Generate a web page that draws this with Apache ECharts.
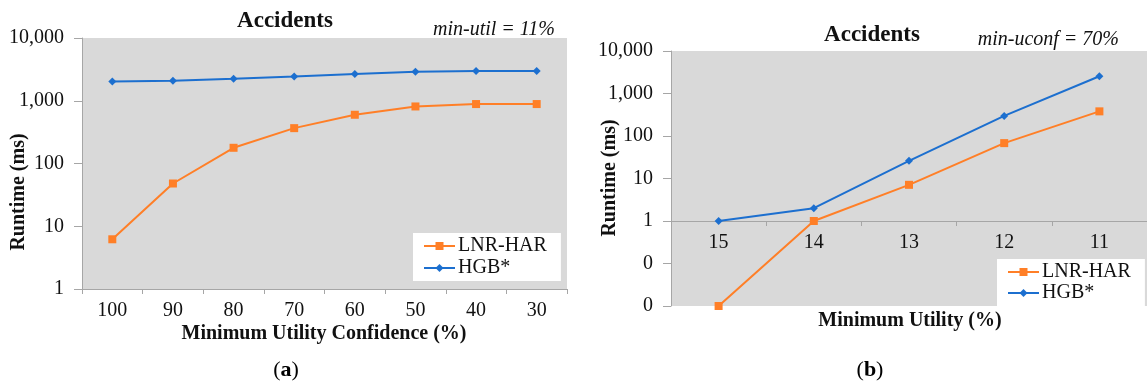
<!DOCTYPE html>
<html>
<head>
<meta charset="utf-8">
<script src="https://cdn.jsdelivr.net/npm/echarts@6/dist/echarts.min.js"></script>
<style>
  html, body { margin: 0; padding: 0; background: #fff; }
  #main { width: 1147px; height: 383px; }
</style>
</head>
<body>
<div id="main"></div>
<script>
// (a) runtime vs minimum utility confidence, min-util = 11%
var confCats = ["100", "90", "80", "70", "60", "50", "40", "30"];
var lnrConf = [6.2, 48, 178, 366, 598, 811, 886, 886];
var hgbConf = [2030, 2080, 2240, 2440, 2670, 2900, 2980, 2980];

// (b) runtime vs minimum utility, min-uconf = 70%
var utilCats = ["15", "14", "13", "12", "11"];
var lnrUtil = [0.01, 1, 7.1, 68, 380];
var hgbUtil = [1, 2, 26, 297, 2550];

var FONT = "Liberation Serif";
var ORANGE = "#ff7f27";
var BLUE = "#1c6fcf";
var AXIS_GRAY = "#a6a6a6";

var chartDom = document.getElementById("main");
var myChart = echarts.init(chartDom);

function logLabel(v) {
    if (v < 1) return "0";
    return Math.round(v).toLocaleString("en-US");
}

function yAxisFor(idx, min, max, splits) {
    return {
        type: "log",
        gridIndex: idx,
        logBase: 10,
        min: min,
        max: max,
        splitNumber: splits,
        axisLine: { show: true, lineStyle: { color: AXIS_GRAY, width: 1 } },
        axisTick: { show: true, length: 8, lineStyle: { color: AXIS_GRAY } },
        axisLabel: {
            formatter: logLabel,
            margin: 18,
            color: "#111",
            fontFamily: FONT,
            fontSize: 20,
        },
        splitLine: { show: false },
        minorTick: { show: false },
    };
}

function xAxisFor(idx, cats, offset) {
    return {
        type: "category",
        gridIndex: idx,
        data: cats,
        boundaryGap: true,
        offset: offset,
        axisLine: { show: true, onZero: false, lineStyle: { color: AXIS_GRAY, width: 1 } },
        axisTick: { show: true, length: 5, inside: false, lineStyle: { color: AXIS_GRAY } },
        axisLabel: {
            margin: 12,
            color: "#111",
            fontFamily: FONT,
            fontSize: 20,
        },
        splitLine: { show: false },
    };
}

function lineSeries(name, data, idx, color, symbol, size) {
    return {
        name: name,
        type: "line",
        xAxisIndex: idx,
        yAxisIndex: idx,
        data: data,
        symbol: symbol,
        symbolSize: size,
        lineStyle: { color: color, width: 2 },
        itemStyle: { color: color },
        emphasis: { disabled: true },
    };
}

function legendAt(left, top, gap) {
    return {
        orient: "vertical",
        left: left,
        top: top,
        width: 160,
        data: ["LNR-HAR", "HGB*"],
        backgroundColor: "#fff",
        padding: [3, 14, 3, 10],
        itemGap: gap,
        itemWidth: 31,
        itemHeight: 10,
        textStyle: { fontFamily: FONT, fontSize: 20, color: "#111", padding: [0, 0, 0, -2] },
    };
}

function text(x, y, str, font, extra) {
    var st = { x: x, y: y, text: str, font: font, fill: "#111", textAlign: "center", textVerticalAlign: "middle" };
    return Object.assign({ type: "text", style: st, silent: true }, extra || {});
}

// "(a)" / "(b)" with a bold letter
function panelTag(x, letter) {
    return {
        type: "text",
        silent: true,
        style: {
            x: x,
            y: 370,
            text: "{n|(}{b|" + letter + "}{n|)}",
            textAlign: "center",
            textVerticalAlign: "middle",
            rich: {
                n: { fontFamily: FONT, fontSize: 22, color: "#111" },
                b: { fontFamily: FONT, fontSize: 22, fontWeight: "bold", color: "#111" },
            },
        },
    };
}

var option = {
    backgroundColor: "#fff",
    animation: false,
    grid: [
        { left: 82, top: 38, width: 485, height: 251, show: true, backgroundColor: "#d9d9d9", borderWidth: 0 },
        { left: 671, top: 51, width: 480, height: 255, show: true, backgroundColor: "#d9d9d9", borderWidth: 0 },
    ],
    xAxis: [xAxisFor(0, confCats, 0), xAxisFor(1, utilCats, -85)],
    yAxis: [yAxisFor(0, 1, 10000, 4), yAxisFor(1, 0.01, 10000, 6)],
    legend: [legendAt(413, 233, 2), legendAt(997, 259, 1)],
    series: [
        lineSeries("LNR-HAR", lnrConf, 0, ORANGE, "rect", 8),
        lineSeries("HGB*", hgbConf, 0, BLUE, "diamond", 8),
        lineSeries("LNR-HAR", lnrUtil, 1, ORANGE, "rect", 8),
        lineSeries("HGB*", hgbUtil, 1, BLUE, "diamond", 8),
    ],
    graphic: [
        text(285, 21, "Accidents", "bold 23px " + FONT),
        text(872, 35, "Accidents", "bold 23px " + FONT),
        text(555, 30, "min-util = 11%", "italic 20px " + FONT, {}),
        text(1119, 40, "min-uconf = 70%", "italic 20px " + FONT, {}),
        text(0, 0, "Runtime (ms)", "bold 20px " + FONT, { x: 19, y: 192, rotation: Math.PI / 2 }),
        text(0, 0, "Runtime (ms)", "bold 20px " + FONT, { x: 610, y: 178, rotation: Math.PI / 2 }),
        text(324, 334, "Minimum Utility Confidence (%)", "bold 20px " + FONT),
        text(910, 321, "Minimum Utility (%)", "bold 20px " + FONT),
        panelTag(286, "a"),
        panelTag(870, "b"),
    ],
};
// right-align the two annotation labels
option.graphic[2].style.textAlign = "right";
option.graphic[3].style.textAlign = "right";

option && myChart.setOption(option);
</script>
</body>
</html>
